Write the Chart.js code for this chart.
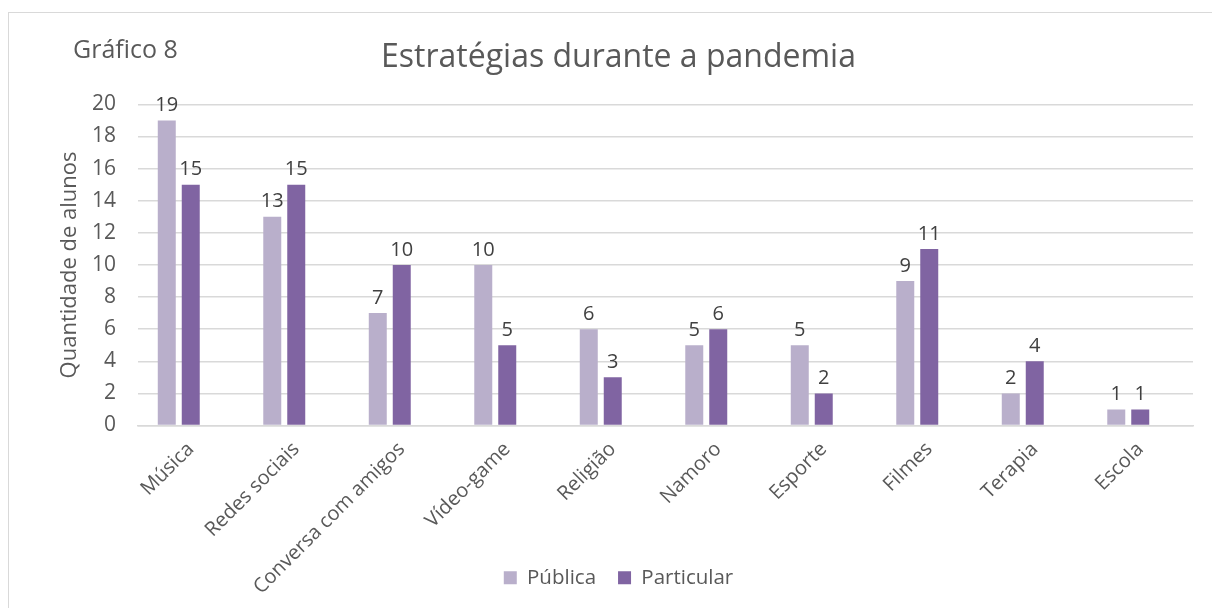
<!DOCTYPE html>
<html>
<head>
<meta charset="utf-8">
<script src="https://cdn.jsdelivr.net/npm/chart.js@4.4.1/dist/chart.umd.min.js"></script>
<style>
    html, body { margin: 0; padding: 0; background: #fff; overflow: hidden; }
    #wrap { position: relative; width: 1212px; height: 608px; }
    #frame {
        position: absolute; left: 8px; top: 12px; width: 1220px; height: 620px;
        border: 1.5px solid #d9d9d9; box-sizing: border-box;
    }
    canvas { position: absolute; left: 0; top: 0; }
</style>
</head>
<body>
<div id="wrap">
    <div id="frame"></div>
    <canvas id="chart" width="1212" height="608"></canvas>
</div>
<script>
// Chart data
const categories = ['Música', 'Redes sociais', 'Conversa com amigos', 'Vídeo-game', 'Religião',
    'Namoro', 'Esporte', 'Filmes', 'Terapia', 'Escola'];
const publica = [19, 13, 7, 10, 6, 5, 5, 9, 2, 1];
const particular = [15, 15, 10, 5, 3, 6, 2, 11, 4, 1];
const yTicks = [0, 2, 4, 6, 8, 10, 12, 14, 16, 18, 20];

const FONT = '"Open Sans", "Noto Sans", sans-serif';
const TEXT = '#595959';

// Draw value labels above the bars
const valueLabels = {
    id: 'valueLabels',
    afterDatasetsDraw(chart) {
        const ctx = chart.ctx;
        ctx.save();
        ctx.font = '20px ' + FONT;
        ctx.fillStyle = '#404040';
        ctx.textAlign = 'center';
        ctx.textBaseline = 'bottom';
        chart.data.datasets.forEach((ds, i) => {
            if (!ds.showValues) return;
            chart.getDatasetMeta(i).data.forEach((bar, j) => {
                ctx.fillText(ds.data[j], bar.x, bar.y - 5);
            });
        });
        ctx.restore();
    }
};

// "Gráfico 8" caption in the top-left corner
const caption = {
    id: 'caption',
    afterDraw(chart) {
        const ctx = chart.ctx;
        ctx.save();
        ctx.font = '25px ' + FONT;
        ctx.fillStyle = TEXT;
        ctx.textAlign = 'left';
        ctx.textBaseline = 'middle';
        ctx.fillText('Gráfico 8', 73, 51);
        ctx.restore();
    }
};

// let the rotated category labels run below the x scale box (down to the legend)
const longLabels = {
    id: 'longLabels',
    afterLayout(chart) {
        chart.scales.x.bottom = chart.height;
    }
};

new Chart(document.getElementById('chart'), {
    type: 'bar',
    data: {
        labels: categories,
        datasets: [{
            label: 'Pública',
            data: publica,
            backgroundColor: '#b9afcb',
            showValues: true
        }, {
            label: 'Particular',
            data: particular,
            backgroundColor: '#8064a2',
            showValues: true
        }, {
            label: '',
            data: categories.map(() => null),
            backgroundColor: 'transparent'
        }]
    },
    options: {
        responsive: false,
        animation: false,
        layout: { padding: { left: 44, right: 19, top: 0, bottom: 10 } },
        datasets: {
            bar: { categoryPercentage: 0.682, barPercentage: 0.75 }
        },
        plugins: {
            title: {
                display: true,
                text: 'Estratégias durante a pandemia',
                color: TEXT,
                font: { family: FONT, size: 32, weight: 'normal' },
                padding: { top: 39, bottom: 27 }
            },
            legend: {
                position: 'bottom',
                labels: {
                    color: TEXT,
                    font: { family: FONT, size: 20.5 },
                    boxWidth: 13,
                    boxHeight: 13,
                    padding: 22,
                    filter: item => item.text !== ''
                }
            },
            tooltip: { enabled: false }
        },
        scales: {
            x: {
                grid: { display: false },
                border: { color: '#d9d9d9', width: 1.5 },
                ticks: {
                    color: TEXT,
                    font: { family: FONT, size: 20 },
                    maxRotation: 45,
                    minRotation: 45,
                    padding: 4
                },
                afterFit(scale) { scale.height = 120; }
            },
            y: {
                min: 0,
                max: 20,
                afterBuildTicks(scale) { scale.ticks = yTicks.map(v => ({ value: v })); },
                grid: { color: '#d9d9d9', lineWidth: 1.5, drawTicks: false },
                border: { display: false },
                ticks: {
                    color: TEXT,
                    font: { family: FONT, size: 21 },
                    padding: 22
                },
                title: {
                    display: true,
                    text: 'Quantidade de alunos',
                    color: TEXT,
                    font: { family: FONT, size: 22 },
                    padding: { top: 13, bottom: 0 }
                },
                afterFit(scale) { scale.width = 94; }
            }
        }
    },
    plugins: [valueLabels, caption, longLabels]
});
</script>
</body>
</html>
